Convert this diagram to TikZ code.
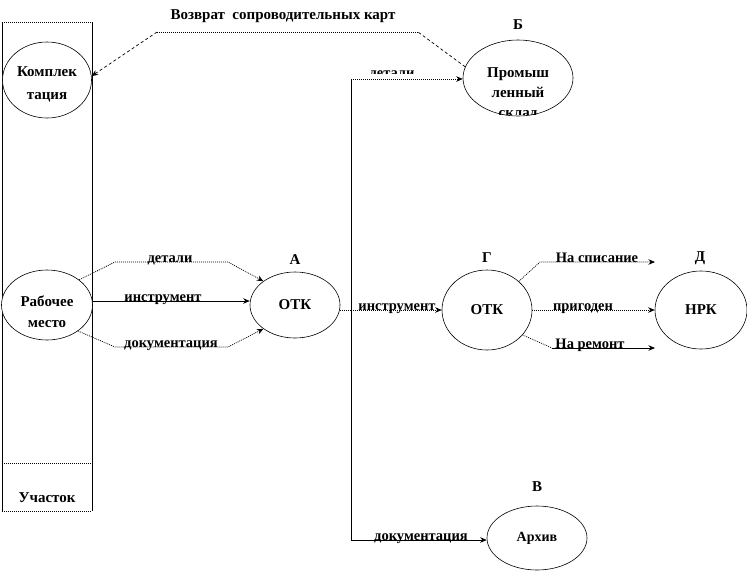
\documentclass[tikz,border=0pt]{standalone}
\usepackage{fontspec}
\setmainfont{Liberation Serif}
\usetikzlibrary{shapes.geometric,arrows.meta}
\begin{document}
\begin{tikzpicture}[x=1pt,y=-1pt,
 ell/.style={draw, ellipse, fill=white, inner sep=0pt, line width=0.6pt, align=center, font=\bfseries\fontsize{15}{22}\selectfont},
 lbl/.style={inner sep=0pt, font=\bfseries\fontsize{14.5}{16}\selectfont},
 big/.style={inner sep=0pt, font=\bfseries\fontsize{15}{17}\selectfont},
 ln/.style={line width=0.7pt},
 arr/.style={ln, -{Stealth[length=6.5pt,width=5.5pt]}},
 dotline/.style={dash pattern=on 1pt off 1pt},
 dashline/.style={dash pattern=on 3pt off 2.5pt},
]
\useasboundingbox (0,0) rectangle (747,571);

% section box
\coordinate (bTL) at (2,22); \coordinate (bTR) at (92,22);
\coordinate (bBL) at (2,511); \coordinate (bBR) at (92,511);
\coordinate (sL) at (2,463); \coordinate (sR) at (92,463);
\draw[ln] (bTL) -- (bBL);
\draw[ln] (bTR) -- (bBR);
\draw[ln,dotline] (bTL) -- (bTR);
\draw[ln,dotline] (bBL) -- (bBR);
\draw[ln,dotline] (sL) -- (sR);
\node[big] (uch) at (47,498) {Участок};

% nodes
\node[ell, minimum width=89, minimum height=76] (komp) at (47,80) {};
\node[inner sep=0pt, align=center, font=\bfseries\fontsize{15}{23}\selectfont] (kompt) at (47,84) {Комплек\\тация};
\node[ell, minimum width=91, minimum height=70] (rm) at (47,305) {};
\node[inner sep=0pt, align=center, font=\bfseries\fontsize{15}{21}\selectfont] (rmt) at (47,312) {Рабочее\\место};
\node[ell, minimum width=90, minimum height=66] (otkA) at (295,305) {ОТК};
\node[big] (lA) at (295,260) {А};
\node[ell, minimum width=90, minimum height=80] (otkG) at (487,310) {ОТК};
\node[big] (lG) at (487,258) {Г};
\node[ell, minimum width=92, minimum height=78] (nrk) at (701,310) {НРК};
\node[big] (lD) at (700,258) {Д};
\node[ell, minimum width=110, minimum height=76] (sklad) at (518,78) {};
\node[big] (lB) at (518,25) {Б};
\begin{scope}
\clip (460,40) rectangle (580,114);
\node[inner sep=0pt, align=center, font=\bfseries\fontsize{15}{20}\selectfont] (skt) at (518,94) {Промыш\\ленный\\склад};
\end{scope}
\node[ell, minimum width=100, minimum height=64, font=\bfseries\fontsize{14}{16}\selectfont] (arh) at (537,538) {Архив};
\node[big] (lV) at (537,487) {В};

% Рабочее место -> ОТК А
\draw[arr,dotline] (rm.38) -- (115,262) -- (228,262) -- (otkA.143);
\draw[arr] ([yshift=4pt]rm.east) -- ([yshift=4pt]otkA.west);
\draw[arr,dotline] (rm.-40) -- (115,347) -- (228,347) -- (otkA.217);
\node[lbl,anchor=base] (t1) at (170,262) {детали};
\node[lbl,anchor=base] (t2) at (163,301) {инструмент};
\node[lbl,anchor=base] (t3) at (171,347) {документация};

% trunk
\coordinate (jt) at (351,79);
\coordinate (jm) at (351,310);
\coordinate (jb) at (351,540);
\draw[ln] (jt) -- (jb);
\draw[ln,dotline] ([yshift=-5pt]otkA.east) -- (jm);
\draw[arr,dotline] (jm) -- (otkG.west |- jm);
\node[lbl,anchor=base] (t4) at (397,310) {инструмент};
\draw[arr,dotline] (jt) -- (sklad.west |- jt);
\begin{scope}
\clip (355,60) rectangle (440,73.5);
\node[lbl,anchor=base] (t5) at (392,77) {детали};
\end{scope}
\draw[arr] (jb) -- (arh.west |- jb);
\node[lbl,anchor=base] (t6) at (421,540) {документация};

% ОТК Г outputs
\coordinate (e1) at (655,262);
\coordinate (e2) at (655,348);
\coordinate (r1) at (552,348);
\draw[arr,dotline] (otkG.42) -- (540,262) -- (e1);
\draw[arr,dotline] (otkG.east) -- (nrk.west);
\draw[ln,dotline] (otkG.-35) -- (r1);
\draw[arr] (r1) -- (e2);
\node[lbl,anchor=base] (t7) at (597,262) {На списание};
\node[lbl,anchor=base] (t8) at (583,310) {пригоден};
\node[lbl,anchor=base] (t9) at (590,348) {На ремонт};

% return of cards
\coordinate (rv1) at (418,32);
\coordinate (rv2) at (157,32);
\draw[ln,dashline] (sklad.168) -- (rv1);
\draw[ln,dotline] (rv1) -- (rv2);
\draw[arr,dashline] (rv2) -- (komp.5);
\node[big] (tv) at (283,16) {Возврат\ \ сопроводительных карт};
\end{tikzpicture}
\end{document}
